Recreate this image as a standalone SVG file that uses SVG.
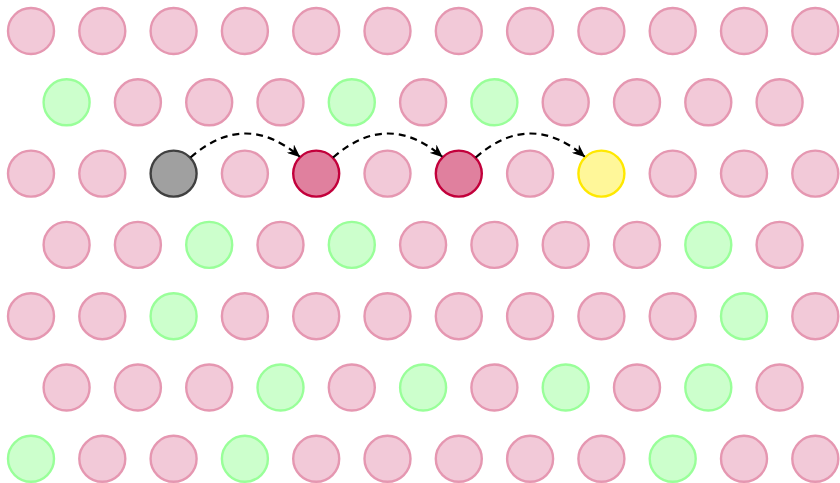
<svg xmlns="http://www.w3.org/2000/svg" width="840" height="483" viewBox="0 0 840 483">
<defs>
<style>
circle{stroke-width:2.4}
.p{fill:#f2c9d8;stroke:#e597b1}
.g{fill:#ccffcc;stroke:#99ff99}
.k{fill:#a0a0a0;stroke:#404040}
.d{fill:#e0809e;stroke:#c2003b}
.y{fill:#fff799;stroke:#ffe800}
.a{fill:none;stroke:#000;stroke-width:2.2;stroke-dasharray:7,5;marker-end:url(#m)}
</style>
<marker id="m" markerUnits="userSpaceOnUse" viewBox="0 0 13 11" refX="12" refY="5.5" markerWidth="13" markerHeight="11" orient="auto">
<path d="M0,0 L13,5.5 L0,11 L4,5.5 z" fill="#000"/>
</marker>
</defs>
<g id="row0">
<circle class="p" cx="31" cy="31" r="23"/><circle class="p" cx="102.3" cy="31" r="23"/><circle class="p" cx="173.6" cy="31" r="23"/><circle class="p" cx="244.9" cy="31" r="23"/><circle class="p" cx="316.2" cy="31" r="23"/><circle class="p" cx="387.5" cy="31" r="23"/><circle class="p" cx="458.8" cy="31" r="23"/><circle class="p" cx="530.1" cy="31" r="23"/><circle class="p" cx="601.4" cy="31" r="23"/><circle class="p" cx="672.7" cy="31" r="23"/><circle class="p" cx="744" cy="31" r="23"/><circle class="p" cx="815.3" cy="31" r="23"/>
</g>
<g id="row1">
<circle class="g" cx="66.6" cy="102.3" r="23"/><circle class="p" cx="137.9" cy="102.3" r="23"/><circle class="p" cx="209.2" cy="102.3" r="23"/><circle class="p" cx="280.5" cy="102.3" r="23"/><circle class="g" cx="351.8" cy="102.3" r="23"/><circle class="p" cx="423.1" cy="102.3" r="23"/><circle class="g" cx="494.4" cy="102.3" r="23"/><circle class="p" cx="565.7" cy="102.3" r="23"/><circle class="p" cx="637" cy="102.3" r="23"/><circle class="p" cx="708.3" cy="102.3" r="23"/><circle class="p" cx="779.6" cy="102.3" r="23"/>
</g>
<g id="row2">
<circle class="p" cx="31" cy="173.6" r="23"/><circle class="p" cx="102.3" cy="173.6" r="23"/><circle class="p" cx="244.9" cy="173.6" r="23"/><circle class="p" cx="387.5" cy="173.6" r="23"/><circle class="p" cx="530.1" cy="173.6" r="23"/><circle class="p" cx="672.7" cy="173.6" r="23"/><circle class="p" cx="744" cy="173.6" r="23"/><circle class="p" cx="815.3" cy="173.6" r="23"/>
</g>
<g id="start"><circle class="k" cx="173.6" cy="173.6" r="23"/></g>
<g id="hop1"><circle class="d" cx="316.2" cy="173.6" r="23"/></g>
<g id="hop2"><circle class="d" cx="458.8" cy="173.6" r="23"/></g>
<g id="target"><circle class="y" cx="601.4" cy="173.6" r="23"/></g>
<g id="row3">
<circle class="p" cx="66.6" cy="244.9" r="23"/><circle class="p" cx="137.9" cy="244.9" r="23"/><circle class="g" cx="209.2" cy="244.9" r="23"/><circle class="p" cx="280.5" cy="244.9" r="23"/><circle class="g" cx="351.8" cy="244.9" r="23"/><circle class="p" cx="423.1" cy="244.9" r="23"/><circle class="p" cx="494.4" cy="244.9" r="23"/><circle class="p" cx="565.7" cy="244.9" r="23"/><circle class="p" cx="637" cy="244.9" r="23"/><circle class="g" cx="708.3" cy="244.9" r="23"/><circle class="p" cx="779.6" cy="244.9" r="23"/>
</g>
<g id="row4">
<circle class="p" cx="31" cy="316.2" r="23"/><circle class="p" cx="102.3" cy="316.2" r="23"/><circle class="g" cx="173.6" cy="316.2" r="23"/><circle class="p" cx="244.9" cy="316.2" r="23"/><circle class="p" cx="316.2" cy="316.2" r="23"/><circle class="p" cx="387.5" cy="316.2" r="23"/><circle class="p" cx="458.8" cy="316.2" r="23"/><circle class="p" cx="530.1" cy="316.2" r="23"/><circle class="p" cx="601.4" cy="316.2" r="23"/><circle class="p" cx="672.7" cy="316.2" r="23"/><circle class="g" cx="744" cy="316.2" r="23"/><circle class="p" cx="815.3" cy="316.2" r="23"/>
</g>
<g id="row5">
<circle class="p" cx="66.6" cy="387.5" r="23"/><circle class="p" cx="137.9" cy="387.5" r="23"/><circle class="p" cx="209.2" cy="387.5" r="23"/><circle class="g" cx="280.5" cy="387.5" r="23"/><circle class="p" cx="351.8" cy="387.5" r="23"/><circle class="g" cx="423.1" cy="387.5" r="23"/><circle class="p" cx="494.4" cy="387.5" r="23"/><circle class="g" cx="565.7" cy="387.5" r="23"/><circle class="p" cx="637" cy="387.5" r="23"/><circle class="g" cx="708.3" cy="387.5" r="23"/><circle class="p" cx="779.6" cy="387.5" r="23"/>
</g>
<g id="row6">
<circle class="g" cx="31" cy="458.8" r="23"/><circle class="p" cx="102.3" cy="458.8" r="23"/><circle class="p" cx="173.6" cy="458.8" r="23"/><circle class="g" cx="244.9" cy="458.8" r="23"/><circle class="p" cx="316.2" cy="458.8" r="23"/><circle class="p" cx="387.5" cy="458.8" r="23"/><circle class="p" cx="458.8" cy="458.8" r="23"/><circle class="p" cx="530.1" cy="458.8" r="23"/><circle class="p" cx="601.4" cy="458.8" r="23"/><circle class="g" cx="672.7" cy="458.8" r="23"/><circle class="p" cx="744" cy="458.8" r="23"/><circle class="p" cx="815.3" cy="458.8" r="23"/>
</g>
<g id="connectors">
<path class="a" d="M190.5,157.5 Q245,110 299.5,156.5"/>
<path class="a" d="M333.1,157.5 Q387.5,110 442,156.5"/>
<path class="a" d="M475.7,157.5 Q530,110 584.5,156.5"/>
</g>
</svg>
